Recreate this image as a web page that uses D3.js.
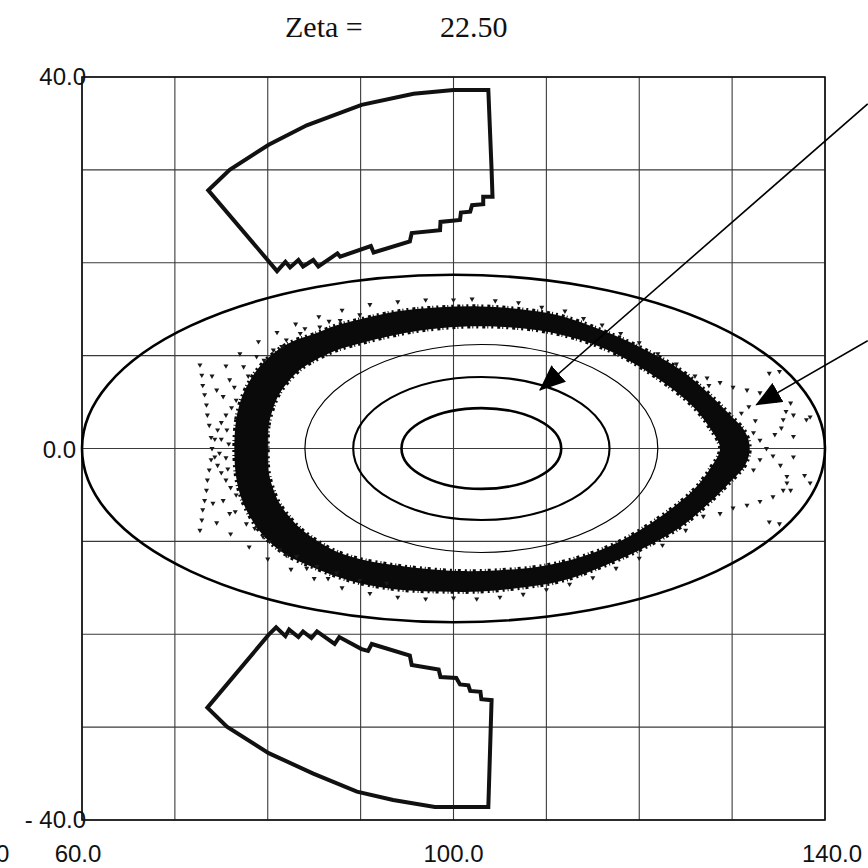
<!DOCTYPE html>
<html>
<head>
<meta charset="utf-8">
<script src="https://cdn.jsdelivr.net/npm/d3@7"></script>
<style>
  body { margin: 0; background: #fff; }
  svg { display: block; }
</style>
</head>
<body>
<svg id="chart" width="868" height="868"></svg>
<script>
// ---- axis data ----
const xDomain = [60, 140];
const yDomain = [-40, 40];
const gridX = [60, 70, 80, 90, 100, 110, 120, 130, 140];
const gridY = [-40, -30, -20, -10, 0, 10, 20, 30, 40];
const xTickValues = [60, 100, 140];
const xTickText = ["60.0", "100.0", "140.0"];
const yTickValues = [40, 0, -40];
const yTickText = ["40.0", "0.0", "- 40.0"];
const zetaValue = "22.50";

// ---- elliptical contours: centre, semi-axes ----
const ellipseCx = [100, 103, 103, 103];
const ellipseCy = [0, 0, 0, 0];
const ellipseRx = [40, 8.6, 13.8, 19.0];
const ellipseRy = [18.7, 4.35, 7.7, 11.2];

// ---- upper and lower fan-shaped regions (x, y) ----
const fanTop = [
  [73.6, 27.8], [75.9, 30.0], [80.1, 32.7], [84.2, 34.8], [90.1, 37.0], [95.7, 38.2],
  [100.0, 38.6], [103.75, 38.6], [104.1, 30.0], [104.2, 27.1], [103.2, 27.1], [103.2, 26.3],
  [102.0, 26.2], [101.8, 25.5], [100.8, 25.4], [100.7, 24.6], [98.6, 24.4], [98.55, 23.5],
  [95.5, 23.2], [95.3, 22.3], [91.4, 21.1], [91.1, 21.8], [87.8, 20.65], [87.5, 21.0],
  [85.45, 19.6], [84.9, 20.3], [83.8, 19.6], [83.3, 20.3], [82.4, 19.5], [81.9, 20.1],
  [81.0, 19.1]
];
const fanBottom = [
  [73.5, -27.9], [80.06, -20.1], [80.9, -19.25], [81.9, -20.2], [82.3, -19.5], [83.3, -20.3],
  [83.8, -19.7], [84.7, -20.4], [85.3, -19.7], [87.2, -21.05], [87.7, -20.3], [90.1, -21.6],
  [90.8, -21.8], [91.2, -21.05], [95.3, -22.3], [95.5, -23.3], [98.4, -23.8], [98.6, -24.6],
  [100.3, -24.7], [100.7, -25.4], [101.6, -25.5], [101.8, -26.1], [102.9, -26.2], [103.0, -27.0],
  [104.1, -27.1], [103.75, -38.6], [98.0, -38.6], [93.5, -37.85], [89.6, -36.95], [84.9, -35.0],
  [80.1, -32.8], [75.6, -29.95]
];

// ---- dense band of orbit points: outer and inner edges ----
const bandOuter = [
  [76.4, 0.0], [76.6, 3.1], [77.1, 5.2], [78.0, 7.2], [79.2, 8.9], [80.8, 10.4], [82.6, 11.5],
  [84.9, 12.3], [87.5, 13.3], [89.9, 13.9], [94.2, 14.8], [98.5, 15.2], [102.9, 15.3],
  [107.2, 15.0], [111.5, 14.3], [115.8, 12.8], [120.1, 10.9], [124.4, 8.5], [127.6, 5.8],
  [129.8, 3.6], [131.4, 1.8], [131.9, 0.0],
  [131.4, -1.8], [129.8, -3.6], [127.6, -5.8], [124.4, -8.5], [120.1, -10.9], [115.8, -12.8],
  [111.5, -14.3], [107.2, -15.0], [102.9, -15.4], [98.5, -15.4], [94.2, -15.2], [89.9, -14.5],
  [87.5, -13.8], [84.9, -12.8], [82.6, -11.8], [80.8, -10.6], [79.2, -9.0], [78.0, -7.2],
  [77.1, -5.2], [76.6, -3.1]
];
const bandInner = [
  [80.0, 0.0], [80.1, 2.5], [80.6, 4.4], [81.2, 5.8], [82.2, 7.2], [83.5, 8.5], [85.1, 9.5],
  [87.2, 10.5], [89.9, 11.3], [93.2, 12.1], [96.4, 12.7], [100.7, 13.1], [105.0, 13.1],
  [109.3, 12.7], [113.6, 11.7], [117.9, 10.0], [122.2, 7.4], [125.8, 4.5], [127.6, 2.2],
  [128.7, 0.0],
  [127.6, -2.2], [125.8, -4.5], [122.2, -7.4], [117.9, -10.0], [113.6, -11.7], [109.3, -12.7],
  [105.0, -13.1], [100.7, -13.2], [96.4, -12.9], [93.2, -12.5], [89.9, -11.9], [87.2, -11.0],
  [85.1, -9.8], [83.5, -8.6], [82.2, -7.2], [81.2, -5.8], [80.6, -4.4], [80.1, -2.5]
];

// ---- scattered orbit points outside the dense band ----
const sparsePoints = [
  // left crossing
  [72.7, 9.0], [73.0, 6.8], [73.4, 4.7], [73.7, 2.5], [74.0, 0.0], [74.6, -1.8], [75.5, -3.4], [76.6, -5.0],
  [76.6, 5.2], [75.5, 3.6], [74.6, 2.0], [73.7, -2.3], [73.4, -4.5], [73.0, -6.6], [72.7, -8.8],
  [72.9, 7.9], [73.2, 5.8], [73.5, 3.6], [73.9, 1.2], [74.3, -0.9], [75.0, -2.6], [76.0, -4.2],
  [76.1, 4.4], [75.0, 2.8], [74.3, 1.0], [73.9, -1.2], [73.5, -3.4], [73.2, -5.6], [72.9, -7.7],
  [75.0, 1.0], [75.5, -1.0], [75.8, 0.5], [74.8, -0.5], [75.6, 2.0], [75.7, -2.2],
  // upper-left fringe
  [74.5, 6.3], [75.9, 7.4], [77.4, 8.8], [78.8, 9.9], [80.6, 10.6], [82.0, 11.7], [83.5, 12.4],
  [85.6, 13.1], [87.8, 13.8], [89.9, 14.4],
  [74.0, 7.8], [75.5, 8.9], [77.0, 10.2], [79.0, 11.5], [81.0, 12.5], [83.0, 13.4], [85.5, 14.2],
  [88.0, 14.9], [91.0, 15.5], [94.0, 15.8], [97.0, 16.0],
  [75.2, 5.6], [76.4, 6.6], [77.9, 7.8], [79.6, 9.5], [81.5, 11.0], [84.0, 12.9], [86.6, 13.7],
  // top fringe
  [100.0, 16.0], [102.0, 16.1], [104.5, 15.9], [107.0, 15.7], [109.5, 15.2], [112.0, 14.8],
  [114.0, 14.0], [116.0, 13.3], [118.0, 12.4], [120.0, 11.4], [122.0, 10.2], [124.0, 9.1],
  [126.0, 7.8], [127.5, 6.8],
  // right upper trail
  [127.3, 7.6], [128.7, 7.1], [130.1, 6.6], [131.6, 6.3], [133.0, 6.0], [134.4, 5.5],
  [134.0, 8.1], [135.1, 8.3],
  // right crossing
  [133.7, 0.0], [132.3, 1.7], [133.0, 0.9], [134.4, -0.8], [135.2, -1.8], [135.9, -3.0],
  [136.3, -4.5], [136.3, 4.9], [135.5, 3.1], [134.6, 1.5], [133.0, -1.2], [132.3, -2.3],
  [136.6, 3.6], [138.0, 3.1], [138.4, 3.4], [136.6, 1.3], [136.6, -0.9], [137.8, -2.9],
  [138.4, -3.7], [135.9, -3.7],
  [131.0, 3.8], [132.5, 3.0], [131.8, 4.5], [134.8, 5.2], [135.8, 4.0], [135.3, 2.2],
  // right lower trail
  [126.9, -7.3], [128.7, -7.0], [130.1, -6.4], [131.6, -6.1], [133.0, -5.7], [134.4, -5.2],
  [135.5, -4.5], [134.0, -7.9], [135.1, -8.1],
  // lower-left fringe
  [74.1, -5.9], [75.9, -7.0], [77.7, -8.1], [79.5, -9.5], [81.3, -10.9], [83.1, -11.6],
  [85.3, -12.7], [87.4, -13.4], [89.9, -14.2], [92.8, -14.5],
  [74.5, -8.0], [76.0, -9.2], [78.0, -10.6], [80.0, -11.9], [82.5, -13.0], [85.0, -14.0],
  [88.0, -15.0], [91.0, -15.6], [94.0, -16.0], [97.0, -16.2],
  [75.2, -5.6], [76.5, -6.8], [78.6, -8.6], [80.2, -10.0], [82.0, -11.5], [84.2, -12.9], [86.5, -14.0],
  // bottom fringe
  [100.0, -16.1], [102.5, -16.2], [105.0, -16.0], [107.5, -15.7], [110.0, -15.2], [112.5, -14.6],
  [115.0, -13.9], [117.5, -12.9], [120.0, -11.8], [122.5, -10.4], [125.0, -8.8]
];

// ---- pointer arrows: [start, tip] ----
const arrows = [
  [[144.6, 37.1], [109.3, 6.3]],
  [[144.6, 11.6], [132.6, 4.7]]
];

// ---- layout ----
const plot = { left: 82, right: 825, top: 77, bottom: 820 };
const svg = d3.select("#chart");
const x = d3.scaleLinear().domain(xDomain).range([plot.left, plot.right]);
const y = d3.scaleLinear().domain(yDomain).range([plot.bottom, plot.top]);

// title
const title = svg.append("g")
  .attr("font-family", "'Liberation Serif', 'Times New Roman', serif")
  .attr("font-size", 30).attr("fill", "#111");
title.append("text").attr("x", 285).attr("y", 37).text("Zeta =");
title.append("text").attr("x", 440).attr("y", 37).text(zetaValue);

// grid
const grid = svg.append("g").attr("stroke", "#3a3a3a").attr("stroke-width", 1.1);
grid.selectAll("line.gx").data(gridX).join("line")
  .attr("x1", d => x(d)).attr("x2", d => x(d))
  .attr("y1", plot.top).attr("y2", plot.bottom);
grid.selectAll("line.gy").data(gridY).join("line")
  .attr("y1", d => y(d)).attr("y2", d => y(d))
  .attr("x1", plot.left).attr("x2", plot.right);
svg.append("rect")
  .attr("x", plot.left).attr("y", plot.top)
  .attr("width", plot.right - plot.left).attr("height", plot.bottom - plot.top)
  .attr("fill", "none").attr("stroke", "#111").attr("stroke-width", 1.6);

// tick labels
const labels = svg.append("g")
  .attr("font-family", "'Liberation Sans', Arial, sans-serif")
  .attr("font-size", 24).attr("fill", "#111");
const yLabelRight = [86, 76, 86];
const yLabelShift = [8, 9, 8];
labels.selectAll("text.yl").data(yTickValues).join("text")
  .attr("text-anchor", "end")
  .attr("x", (d, i) => yLabelRight[i])
  .attr("y", (d, i) => y(d) + yLabelShift[i])
  .text((d, i) => yTickText[i]);
const xLabelShift = [-4, 0, 7];
labels.selectAll("text.xl").data(xTickValues).join("text")
  .attr("text-anchor", "middle")
  .attr("x", (d, i) => x(d) + xLabelShift[i])
  .attr("y", 862)
  .text((d, i) => xTickText[i]);
// partly visible label at the left page edge
labels.append("text").attr("x", -4).attr("y", 862).text("0");

const line = d3.line().x(d => x(d[0])).y(d => y(d[1]));

// dense band (outer edge minus inner edge)
const smooth = d3.line().x(d => x(d[0])).y(d => y(d[1])).curve(d3.curveCatmullRomClosed.alpha(0.5));
svg.append("path")
  .attr("d", smooth(bandOuter) + smooth(bandInner))
  .attr("fill", "#0a0a0a").attr("fill-rule", "evenodd");
// ragged edges of the band
svg.append("g").selectAll("path").data([bandOuter, bandInner]).join("path")
  .attr("d", d => smooth(d))
  .attr("fill", "none").attr("stroke", "#0a0a0a")
  .attr("stroke-width", 4).attr("stroke-dasharray", "3 2 1 3 2 4");

// scattered points
const tri = d3.symbol().type(d3.symbolTriangle).size(11);
svg.append("g").selectAll("path").data(sparsePoints).join("path")
  .attr("d", tri)
  .attr("transform", d => `translate(${x(d[0])},${y(d[1])}) rotate(180)`)
  .attr("fill", "#1a1a1a");

// ellipses
const ellipseWidths = [2.6, 2.6, 2.1, 1.2];
svg.append("g").selectAll("ellipse").data(ellipseCx).join("ellipse")
  .attr("cx", d => x(d))
  .attr("cy", (d, i) => y(ellipseCy[i]))
  .attr("rx", (d, i) => x(d + ellipseRx[i]) - x(d))
  .attr("ry", (d, i) => y(0) - y(ellipseRy[i]))
  .attr("fill", "none").attr("stroke", "#000")
  .attr("stroke-width", (d, i) => ellipseWidths[i]);

// fans
svg.append("g").selectAll("path").data([fanTop, fanBottom]).join("path")
  .attr("d", d => line(d) + "Z")
  .attr("fill", "none").attr("stroke", "#111")
  .attr("stroke-width", 4).attr("stroke-linejoin", "miter");

// arrows
svg.append("defs").append("marker")
  .attr("id", "head").attr("markerUnits", "userSpaceOnUse")
  .attr("viewBox", "0 0 26 22").attr("refX", 25).attr("refY", 11)
  .attr("markerWidth", 26).attr("markerHeight", 22).attr("orient", "auto")
  .append("path").attr("d", "M0,0 L26,11 L0,22 Z").attr("fill", "#000");
svg.append("g").selectAll("line").data(arrows).join("line")
  .attr("x1", d => x(d[0][0])).attr("y1", d => y(d[0][1]))
  .attr("x2", d => x(d[1][0])).attr("y2", d => y(d[1][1]))
  .attr("stroke", "#000").attr("stroke-width", 1.6)
  .attr("marker-end", "url(#head)");
</script>
</body>
</html>
